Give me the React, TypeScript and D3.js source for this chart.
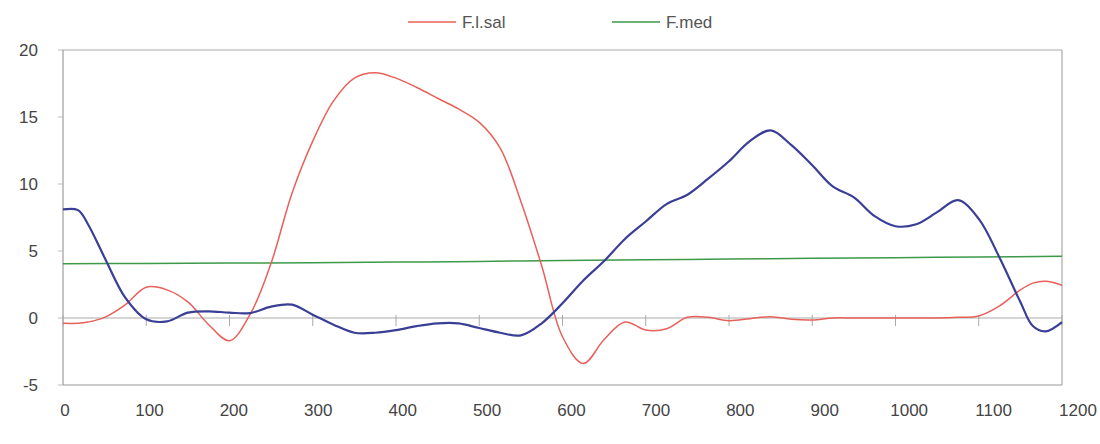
import React from "react";
import * as d3 from "d3";

const xSteps: number[] = [
  0, 18, 30, 50, 75, 100, 125, 150, 175, 200, 225, 250, 275, 300, 325, 350, 375, 400, 425, 450, 475,
  500, 525, 550, 575, 600, 625, 650, 675, 700, 725, 750, 775, 800, 825, 850, 875, 900, 925, 950,
  975, 1000, 1025, 1050, 1075, 1100, 1125, 1150, 1165, 1180, 1200,
];

const flSal: number[] = [
  -0.4, -0.4, -0.3, 0.05, 1.0, 2.3, 2.1, 1.2, -0.5, -1.7, 0.3, 4.1, 9.3, 13.2, 16.2, 17.9, 18.3,
  17.9, 17.2, 16.4, 15.6, 14.6, 12.7, 8.7, 3.9, -1.4, -3.4, -1.6, -0.3, -0.9, -0.8, 0.05, 0.05,
  -0.2, -0.05, 0.1, -0.1, -0.15, 0, 0, 0, 0, 0, 0, 0.05, 0.15, 0.9, 2.1, 2.6, 2.75, 2.45,
];

const blueSeries: number[] = [
  8.1, 8.05, 7.0, 4.5, 1.5, -0.1, -0.25, 0.4, 0.5, 0.4, 0.37, 0.85, 1.0, 0.25, -0.5, -1.1, -1.1,
  -0.9, -0.6, -0.4, -0.4, -0.75, -1.1, -1.3, -0.4, 1.1, 2.8, 4.25, 5.9, 7.2, 8.5, 9.2, 10.4, 11.7,
  13.2, 14.0, 12.9, 11.4, 9.8, 9.0, 7.6, 6.85, 7.0, 7.9, 8.8, 7.4, 4.5, 1.2, -0.6, -1.0, -0.3,
];

const medX: number[] = [0, 100, 200, 300, 400, 500, 600, 700, 800, 900, 1000, 1100, 1200];
const fMed: number[] = [4.05, 4.07, 4.1, 4.12, 4.17, 4.22, 4.3, 4.35, 4.4, 4.45, 4.5, 4.55, 4.6];

const xTicks: number[] = [0, 100, 200, 300, 400, 500, 600, 700, 800, 900, 1000, 1100, 1200];
const yTicks: number[] = [-5, 0, 5, 10, 15, 20];

const legendItems: { label: string; color: string }[] = [
  { label: "F.l.sal", color: "#e8605a" },
  { label: "F.med", color: "#3c9a4a" },
];

export default function App() {
  const W = 1100;
  const H = 444;
  const x = d3.scaleLinear().domain([0, 1200]).range([63, 1062]);
  const xLabel = d3.scaleLinear().domain([0, 1200]).range([65, 1078]);
  const y = d3.scaleLinear().domain([-5, 20]).range([385, 50]);

  type P = [number, number];
  const line = d3
    .line<P>()
    .x((d) => x(d[0]))
    .y((d) => y(d[1]))
    .curve(d3.curveCatmullRom.alpha(0.5));

  const redPts: P[] = xSteps.map((v, i) => [v, flSal[i]]);
  const bluePts: P[] = xSteps.map((v, i) => [v, blueSeries[i]]);
  const greenPts: P[] = medX.map((v, i) => [v, fMed[i]]);

  const font = "'Liberation Sans', Arial, sans-serif";
  const textColor = "#444";

  return (
    <svg width={W} height={H} style={{ display: "block", position: "absolute", left: 0, top: 0 }}>
      <rect x={0} y={0} width={W} height={H} fill="#fff" />
      {/* plot frame */}
      <line x1={x(0)} x2={x(1200)} y1={y(20)} y2={y(20)} stroke="#aaa" strokeWidth={1} />
      <line x1={x(0)} x2={x(1200)} y1={y(-5)} y2={y(-5)} stroke="#999" strokeWidth={1} />
      <line x1={x(1200)} x2={x(1200)} y1={y(20)} y2={y(-5)} stroke="#999" strokeWidth={1} />
      <line x1={x(0)} x2={x(0)} y1={y(20)} y2={y(-5)} stroke="#888" strokeWidth={1} />
      {yTicks.map((t) => (
        <g key={"yt" + t}>
          <line x1={x(0) - 5} x2={x(0)} y1={y(t)} y2={y(t)} stroke="#bbb" />
          <text
            x={38}
            y={y(t)}
            textAnchor="end"
            dominantBaseline="central"
            fontFamily={font}
            fontSize={17}
            fill={textColor}
          >
            {t}
          </text>
        </g>
      ))}
      {/* zero axis */}
      <line x1={x(0)} x2={x(1200)} y1={y(0)} y2={y(0)} stroke="#aaa" strokeWidth={1} />
      {xTicks.map((t) => (
        <line key={"xt" + t} x1={x(t)} x2={x(t)} y1={y(0) - 3} y2={y(0) + 8} stroke="#aaa" />
      ))}
      {xTicks.map((t) => (
        <text
          key={"xl" + t}
          x={xLabel(t)}
          y={410}
          textAnchor="middle"
          dominantBaseline="central"
          fontFamily={font}
          fontSize={17}
          fill={textColor}
        >
          {t}
        </text>
      ))}
      {/* series */}
      <path d={line(greenPts) || ""} fill="none" stroke="#3c9a4a" strokeWidth={1.5} />
      <path d={line(redPts) || ""} fill="none" stroke="#e8605a" strokeWidth={1.5} />
      <path d={line(bluePts) || ""} fill="none" stroke="#3a3f96" strokeWidth={2.2} />
      {/* legend */}
      {legendItems.map((it, i) => {
        const lx = 408 + i * 204;
        return (
          <g key={it.label}>
            <line x1={lx} x2={lx + 48} y1={22} y2={22} stroke={it.color} strokeWidth={1.5} />
            <text
              x={lx + 54}
              y={22}
              dominantBaseline="central"
              fontFamily={font}
              fontSize={17}
              fill="#555"
            >
              {it.label}
            </text>
          </g>
        );
      })}
    </svg>
  );
}
